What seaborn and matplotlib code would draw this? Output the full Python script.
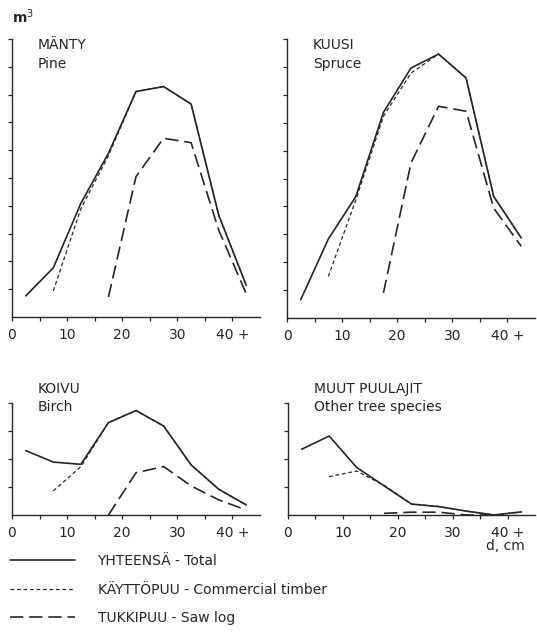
import pandas as pd
import seaborn as sns
import matplotlib.pyplot as plt
from matplotlib.ticker import FixedLocator

# diameter class midpoints (cm)
d_class = [2.5, 7.5, 12.5, 17.5, 22.5, 27.5, 32.5, 37.5, 42.5]

# volume per class (axis units)
pine_total = [0.76, 1.77, 4.09, 5.89, 8.11, 8.29, 7.66, 3.67, 1.14]
pine_comm = [None, 0.94, 3.90, 5.80, 8.11, 8.29, 7.66, 3.67, 1.14]
pine_saw = [None, None, None, 0.72, 5.05, 6.43, 6.27, 3.13, 0.84]

spruce_total = [0.66, 2.83, 4.36, 7.37, 8.96, 9.46, 8.60, 4.36, 2.87]
spruce_comm = [None, 1.49, 4.24, 7.23, 8.78, 9.46, 8.60, 4.36, 2.87]
spruce_saw = [None, None, None, 0.90, 5.56, 7.59, 7.41, 3.94, 2.57]

birch_total = [2.30, 1.89, 1.81, 3.30, 3.73, 3.18, 1.79, 0.92, 0.36]
birch_comm = [None, 0.86, 1.73, 3.30, 3.73, 3.18, 1.79, 0.92, 0.36]
birch_saw = [None, None, None, 0.0, 1.51, 1.73, 1.04, 0.54, 0.18]

other_total = [2.35, 2.82, 1.70, 1.04, 0.39, 0.30, 0.14, 0.0, 0.11]
other_comm = [None, 1.37, 1.57, 1.06, 0.39, 0.30, 0.14, 0.0, 0.11]
other_saw = [None, None, None, 0.06, 0.10, 0.10, 0.0, 0.0, None]

panels = [
    ("MÄNTY", "Pine", pine_total, pine_comm, pine_saw, 10),
    ("KUUSI", "Spruce", spruce_total, spruce_comm, spruce_saw, 10),
    ("KOIVU", "Birch", birch_total, birch_comm, birch_saw, 4),
    ("MUUT PUULAJIT", "Other tree species", other_total, other_comm, other_saw, 4),
]

series_labels = ["YHTEENSÄ - Total", "KÄYTTÖPUU - Commercial timber", "TUKKIPUU - Saw log"]
x_ticks = [0, 10, 20, 30, 40]
x_tick_labels = ["0", "10", "20", "30", "40 +"]

ink = "#262626"
fs = 10
sns.set_style("white")
plt.rcParams['font.family'] = ['DejaVu Sans']
plt.rcParams['text.color'] = ink

fig = plt.figure(figsize=(5.37, 6.33), dpi=100)
W, H = 537, 633
boxes = [(12, 39, 248, 278), (287, 39, 248, 279), (12, 403, 248, 112), (288, 403, 247, 112)]

styles = [
    dict(linestyle="-", linewidth=1.2),
    dict(linestyle=(0, (3, 2.2)), linewidth=0.9),
    dict(linestyle=(0, (8, 3.5)), linewidth=1.2),
]

legend_handles = []
for i, (name_fi, name_en, tot, comm, saw, ymax) in enumerate(panels):
    l, t, w, h = boxes[i]
    ax = fig.add_axes([l / W, (H - t - h) / H, w / W, h / H])
    df = pd.DataFrame({"d": d_class, "total": tot, "comm": comm, "saw": saw})
    for col, st, lab in zip(["total", "comm", "saw"], styles, series_labels):
        sub = df.dropna(subset=[col])
        sns.lineplot(data=sub, x="d", y=col, ax=ax, color=ink, label=lab, legend=False, **st)
        if i == 0:
            legend_handles.append(ax.get_lines()[-1])
    ax.set_xlim(0, 45)
    ax.set_ylim(0, ymax)
    ax.set_xlabel("")
    ax.set_ylabel("")
    for s in ["top", "right"]:
        ax.spines[s].set_visible(False)
    for s in ["left", "bottom"]:
        ax.spines[s].set_color(ink)
        ax.spines[s].set_linewidth(1.0)
    ax.set_xticks(x_ticks)
    ax.set_xticklabels(x_tick_labels)
    ax.xaxis.set_minor_locator(FixedLocator([5, 15, 25, 35]))
    ax.set_yticks(range(1, ymax + 1))
    ax.set_yticklabels([])
    ax.tick_params(axis="both", which="both", direction="out", length=3, width=0.9,
                   colors=ink, labelsize=fs, pad=5)
    ax.tick_params(axis="x", which="both", bottom=True)
    ax.tick_params(axis="y", left=True)
    if ymax == 10:
        y1, y2 = 0.978, 0.91
    else:
        y1, y2 = 1.125, 0.964
    ax.text(0.105, y1, name_fi, transform=ax.transAxes, fontsize=fs, color=ink,
            va="center", ha="left", clip_on=False)
    ax.text(0.105, y2, name_en, transform=ax.transAxes,
            fontsize=fs, color=ink, va="center", ha="left", clip_on=False)

fig.text(12 / W, 1 - 17 / H, "m$^3$", fontsize=fs, fontweight="bold", color=ink,
         va="center", ha="left")
fig.text(505 / W, 1 - 546 / H, "d, cm", fontsize=fs, color=ink, va="center", ha="center")

fig.legend(handles=legend_handles, labels=series_labels, loc="upper left",
           bbox_to_anchor=(10 / W, 1 - 554 / H), frameon=False, fontsize=fs,
           handlelength=4.7, handletextpad=1.6, labelspacing=1.05, borderpad=0,
           borderaxespad=0, labelcolor=ink)

plt.savefig("out.png", dpi=100)
